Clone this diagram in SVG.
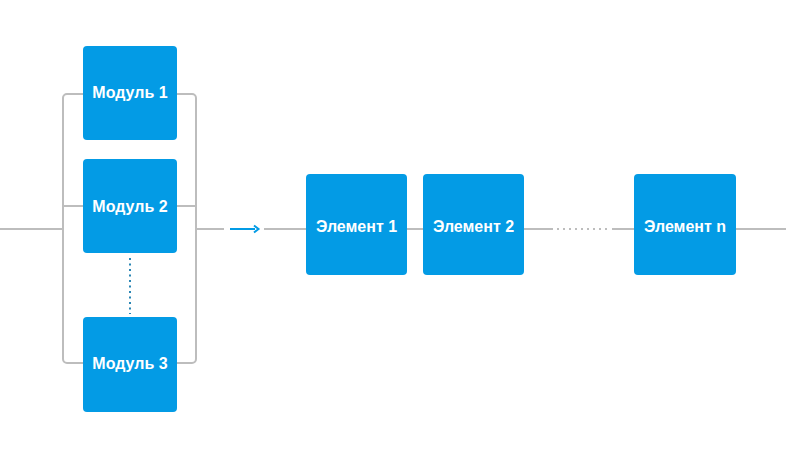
<svg xmlns="http://www.w3.org/2000/svg" width="786" height="463" viewBox="0 0 786 463">
<style>
.box{fill:#039be5}
.lbl{font-family:"Liberation Sans",Arial,sans-serif;font-weight:bold;font-size:16px;fill:#fff;text-anchor:middle}
.ln{stroke:#bdbdbd;stroke-width:2;fill:none}
.dot{stroke:#bdbdbd;stroke-width:2;stroke-dasharray:2 4;fill:none}
</style>
<rect width="786" height="463" fill="#fff"/>
<g id="connectors">
<path class="ln" d="M0 229H63"/>
<path class="ln" d="M83 94H67a4 4 0 0 0-4 4V359a4 4 0 0 0 4 4H83"/>
<path class="ln" d="M63 206H83"/>
<path class="ln" d="M177 94H192a4 4 0 0 1 4 4V359a4 4 0 0 1-4 4H177"/>
<path class="ln" d="M177 206H196"/>
<path class="ln" d="M196 229H224"/>
<path d="M230 229H255" stroke="#039be5" stroke-width="2"/>
<path d="M254 225.5L258.5 229L254 232.5" stroke="#039be5" stroke-width="2" fill="none"/>
<path d="M130 258V314" stroke="#2a86b4" stroke-width="2" stroke-dasharray="2 3.5"/>
<path class="ln" d="M264 229H306"/>
<path class="ln" d="M407 229H423"/>
<path class="ln" d="M524 229H553"/>
<path class="dot" d="M557 229H610"/>
<path class="ln" d="M612 229H634"/>
<path class="ln" d="M736 229H786"/>
</g>
<g id="modul1"><rect class="box" x="83" y="46" width="94" height="94" rx="4"/><text class="lbl" x="130" y="97.5">Модуль 1</text></g>
<g id="modul2"><rect class="box" x="83" y="159" width="94" height="94" rx="4"/><text class="lbl" x="130" y="211.5">Модуль 2</text></g>
<g id="modul3"><rect class="box" x="83" y="317" width="94" height="95" rx="4"/><text class="lbl" x="130" y="368.5">Модуль 3</text></g>
<g id="element1"><rect class="box" x="306" y="174" width="101" height="101" rx="4"/><text class="lbl" x="356.5" y="231.5">Элемент 1</text></g>
<g id="element2"><rect class="box" x="423" y="174" width="101" height="101" rx="4"/><text class="lbl" x="473.5" y="231.5">Элемент 2</text></g>
<g id="elementn"><rect class="box" x="634" y="174" width="102" height="101" rx="4"/><text class="lbl" x="685" y="231.5">Элемент n</text></g>
</svg>
